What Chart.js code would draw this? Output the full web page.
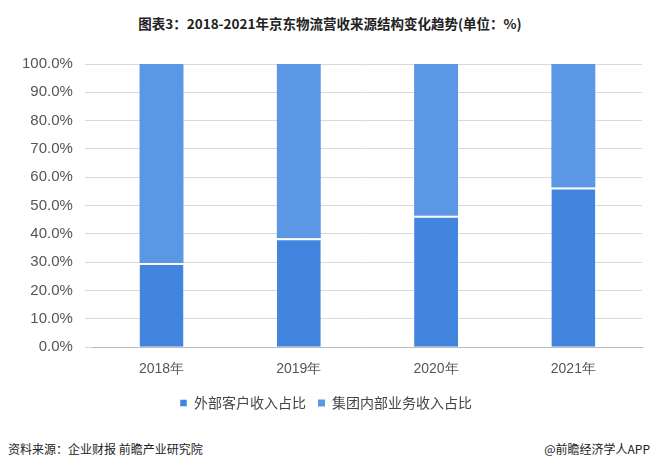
<!DOCTYPE html>
<html><head><meta charset="utf-8">
<script src="https://cdn.jsdelivr.net/npm/chart.js@4"></script>
<style>
body{margin:0;background:#fff;font-family:"Noto Sans CJK SC",sans-serif;}
#wrap{position:relative;width:660px;height:468px;}
#title{position:absolute;top:13px;left:0;width:660px;text-align:center;font-weight:bold;font-size:13.5px;color:#222;}
#c{position:absolute;left:0;top:43px;}
#src{position:absolute;left:8px;top:440px;font-size:12px;color:#222;}
#app{position:absolute;right:10px;top:440px;font-size:12px;color:#222;}
</style></head><body>
<div id="wrap">
<div id="title">图表3：2018-2021年京东物流营收来源结构变化趋势(单位：%)</div>
<canvas id="c" width="660" height="377"></canvas>
<div id="src">资料来源：企业财报 前瞻产业研究院</div>
<div id="app">@前瞻经济学人APP</div>
</div>
<script>
const categories=["2018年","2019年","2020年","2021年"];
const external=[29.7,38.5,46.4,56.4];
const internal=[70.3,61.5,53.6,43.6];
const seriesNames=["外部客户收入占比","集团内部业务收入占比"];
new Chart(document.getElementById('c'),{
 type:'bar',
 data:{labels:categories,datasets:[
  {label:seriesNames[0],data:external,backgroundColor:'#4185df',borderColor:'#fff',borderWidth:{top:2},borderSkipped:'bottom',categoryPercentage:0.32,barPercentage:1},
  {label:seriesNames[1],data:internal,backgroundColor:'#5c97e6',categoryPercentage:0.32,barPercentage:1}
 ]},
 options:{responsive:false,animation:false,
  layout:{padding:{left:10,right:18,top:2,bottom:0}},
  plugins:{legend:{position:'bottom',labels:{boxWidth:7,boxHeight:7,padding:12,font:{size:14,family:"Noto Sans CJK SC"},color:'#444'}},tooltip:{enabled:false}},
  scales:{
   x:{stacked:true,grid:{display:false},border:{color:'#bbb'},ticks:{font:{size:14},color:'#555',padding:6}},
   y:{stacked:true,min:0,max:100,ticks:{stepSize:10,callback:v=>v.toFixed(1)+'%',font:{size:15},color:'#555',padding:12},grid:{color:'#d9d9d9'},border:{display:false}}
  }}
});
</script>
</body></html>
